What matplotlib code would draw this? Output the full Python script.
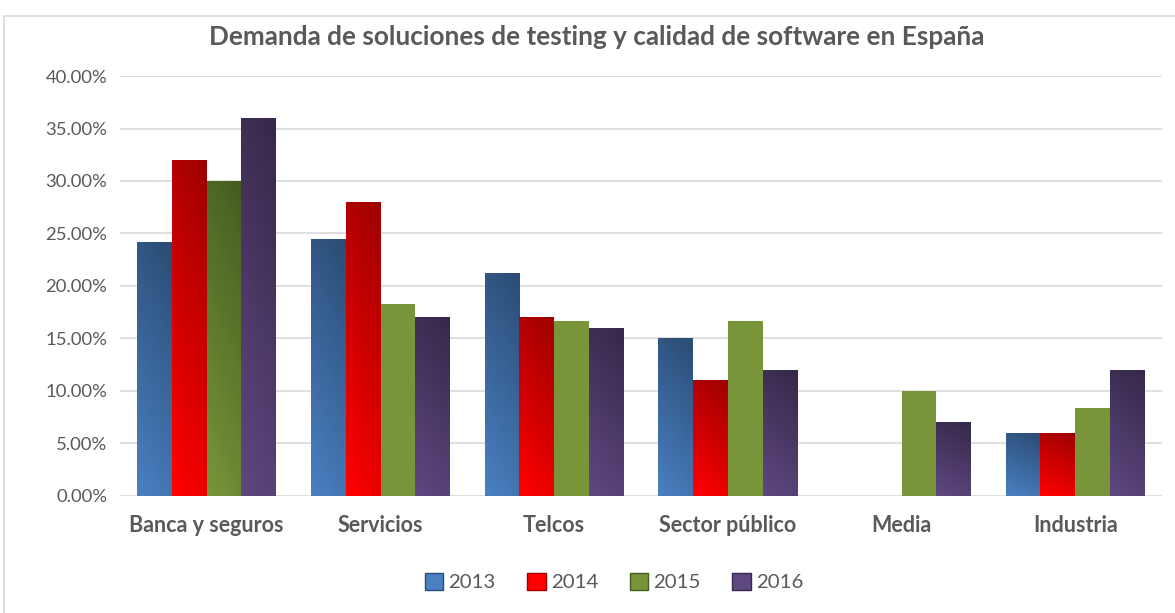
import numpy as np
import matplotlib.pyplot as plt
from matplotlib.colors import LinearSegmentedColormap
from matplotlib.patches import Rectangle
from matplotlib.ticker import PercentFormatter

categorias = ['Banca y seguros', 'Servicios', 'Telcos', 'Sector público', 'Media', 'Industria']
anios = ['2013', '2014', '2015', '2016']
v2013 = [24.2, 24.5, 21.2, 15.0, 0.0, 6.0]
v2014 = [32.0, 28.0, 17.0, 11.0, 0.0, 6.0]
v2015 = [30.0, 18.3, 16.7, 16.7, 10.0, 8.4]
v2016 = [36.0, 17.0, 16.0, 12.0, 7.0, 12.0]
series = [v2013, v2014, v2015, v2016]

# dark (top) / light (bottom) colour of each series
colores = [('#2b4c74', '#4a80c2'),
           ('#9e0000', '#ff0000'),
           ('#465c20', '#78953a'),
           ('#36284a', '#5e4880')]
# which bars of the 2015 series carry the gradient (only the first one in the original)
grad_2015 = [True, False, False, False, False, False]

plt.rcParams['font.family'] = ['Lato', 'DejaVu Sans']

fig = plt.figure(figsize=(11.75, 6.13), dpi=100)
fig.patches.append(Rectangle((0.0035, -0.01), 1.2, 0.984, transform=fig.transFigure,
                             fill=False, edgecolor='#d9d9d9', lw=1.2))
ax = fig.add_axes([0.102, 0.191, 0.887, 0.685])

x = np.arange(len(categorias))
w = 0.2
gy, gx = np.mgrid[0:1:100j, 0:1:20j]
grad = 0.8 * gy + 0.2 * gx  # 0 = bottom-right light, 1 = top-left dark

for i, (vals, (dark, light)) in enumerate(zip(series, colores)):
    bars = ax.bar(x + (i - 1.5) * w, vals, w, color=light if i == 2 else dark,
                  label=anios[i], zorder=2, edgecolor='none')
    cmap = LinearSegmentedColormap.from_list('g%d' % i, [light, dark])
    for j, b in enumerate(bars):
        if b.get_height() <= 0:
            continue
        if i == 2 and not grad_2015[j]:
            continue
        x0, h = b.get_x(), b.get_height()
        im = ax.imshow(grad[::-1], cmap=cmap, extent=[x0, x0 + w, 0, h],
                       aspect='auto', zorder=3, origin='upper', vmin=0, vmax=1)
        im.set_clip_path(b)

ax.set_xlim(-0.5, len(categorias) - 0.5)
ax.set_ylim(0, 40)
ax.set_yticks(np.arange(0, 41, 5))
ax.yaxis.set_major_formatter(PercentFormatter(decimals=2))
ax.grid(axis='y', color='#d9d9d9', lw=1.2, zorder=0)
for s in ax.spines.values():
    s.set_visible(False)
ax.tick_params(length=0, colors='#595959', labelsize=13.3)
ax.tick_params(axis='y', pad=9)
ax.set_xticks(x)
ax.set_xticklabels(categorias, fontweight='bold', fontsize=15.5)
ax.tick_params(axis='x', pad=14)

fig.text(0.508, 0.94, 'Demanda de soluciones de testing y calidad de software en España',
         ha='center', va='center', fontsize=18.8, fontweight='bold', color='#595959')

leg = ax.legend(loc='center', bbox_to_anchor=(0.474, -0.205), ncol=4, frameon=False,
                fontsize=14.7, handlelength=0.9, handleheight=0.9, handletextpad=0.25,
                columnspacing=1.55, labelcolor='#595959')
for h, (dark, light) in zip(leg.legend_handles, colores):
    h.set_color(light)
    h.set_edgecolor(dark)

fig.savefig('out.png', dpi=100, facecolor='white')
